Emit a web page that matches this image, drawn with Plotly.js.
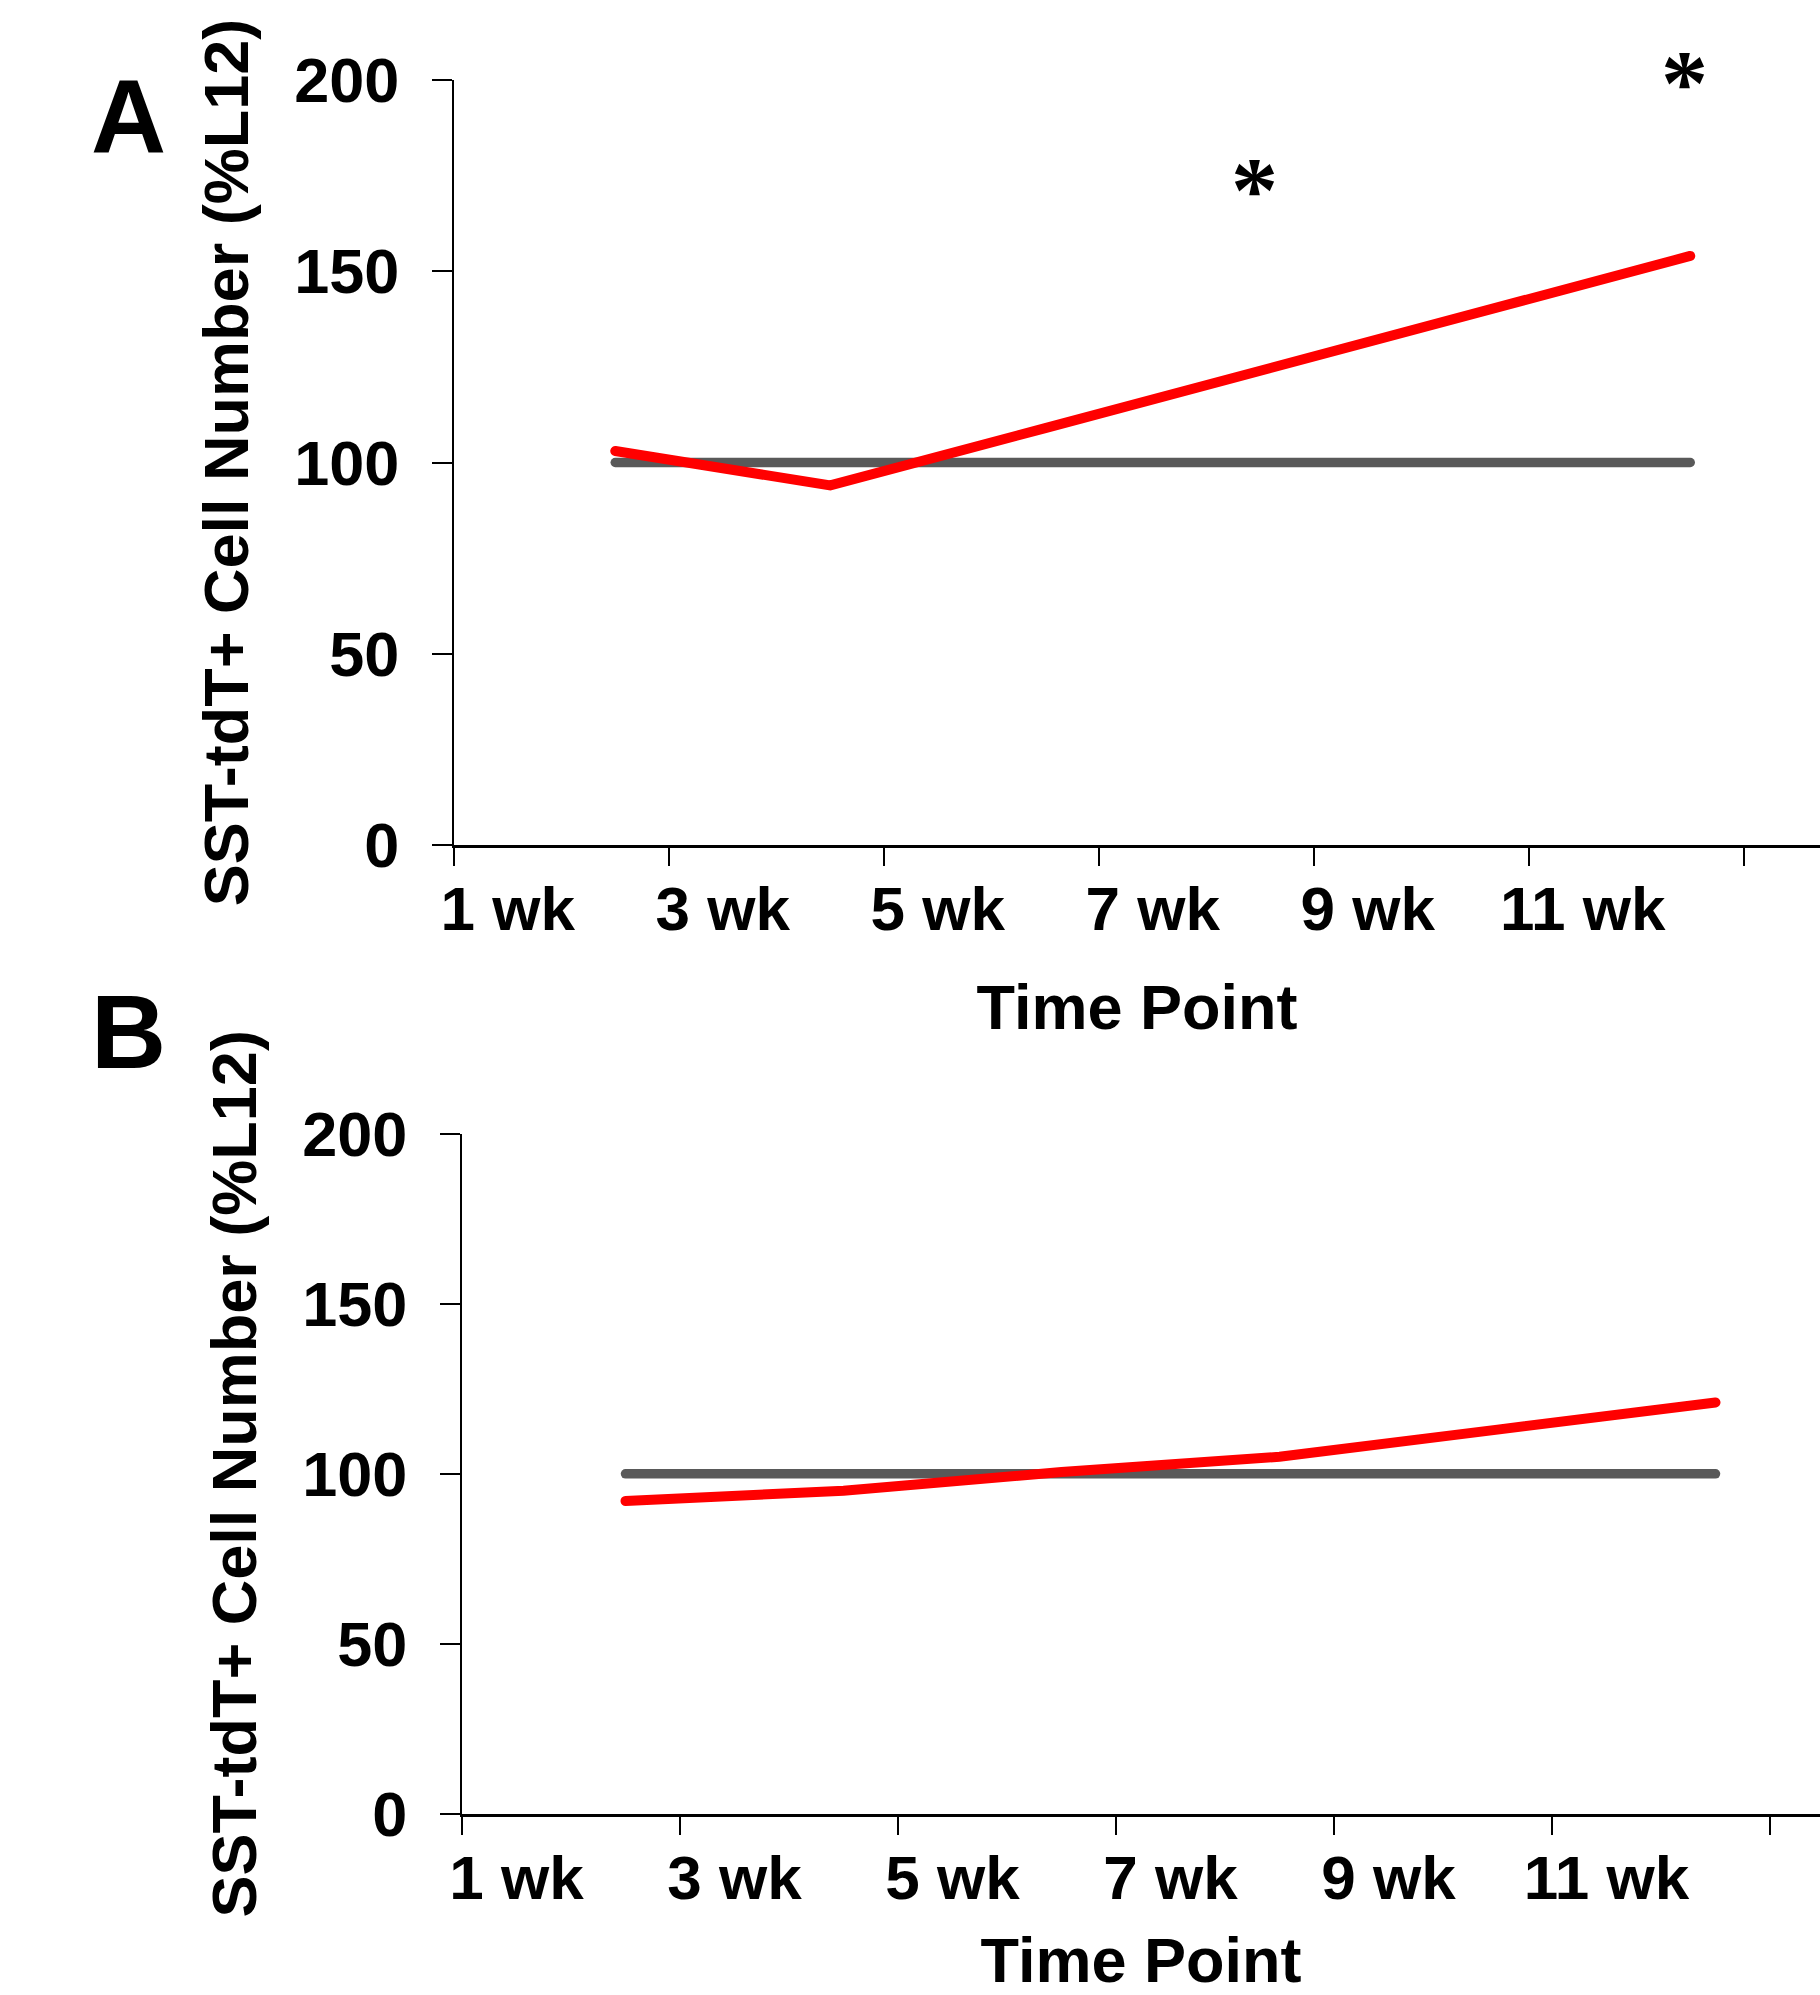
<!DOCTYPE html>
<html><head><meta charset="utf-8">
<script src="https://cdn.plot.ly/plotly-3.0.1.min.js"></script>
<style>
html,body{margin:0;padding:0;background:#fff;overflow:hidden;}
#chart{width:1820px;height:1995px;}
.js-line{stroke-linecap:round;}
</style>
</head><body><div id="chart"></div>
<script>
// ---- data ----
const weeks = ['1 wk', '3 wk', '5 wk', '7 wk', '9 wk', '11 wk'];
const controlA = [100, 100, 100, 100, 100, 100];
const treatedA = [103, 94, 109, 124, 139, 154];
const controlB = [100, 100, 100, 100, 100, 100];
const treatedB = [92, 95, 100.5, 105, 113, 121];
const yTickVals = [0, 50, 100, 150, 200];
const sigWeeksA = ['7 wk', '11 wk'];
const sigLevelA = [175, 203];
const yTitle = 'SST-tdT+ Cell Number (%L12)';
const xTitle = 'Time Point';

// ---- build ----
const idx = weeks.map((w, i) => i);
const tickPos = idx.map(i => i - 0.75).concat([weeks.length - 0.75]);
const labelPos = idx.map(i => i - 0.5);

const W = 1820, H = 1995;
const FONT = 'Liberation Sans, Arial, Helvetica, sans-serif';
const GRAY = '#595959', RED = '#ff0000';
const YMAX = 200;
const A_TOP = 80, A_BOT = 845, B_TOP = 1134, B_BOT = 1813.6;

function line(y, color, width, xa, ya) {
  return {x: idx, y: y, type: 'scatter', mode: 'lines', xaxis: xa, yaxis: ya,
          line: {color: color, width: width}, hoverinfo: 'skip', showlegend: false};
}
function holder(xa, ya) {
  return {x: [labelPos[0]], y: [null], type: 'scatter', mode: 'lines', xaxis: xa, yaxis: ya,
          hoverinfo: 'skip', showlegend: false};
}
const data = [
  holder('x3', 'y'),
  holder('x4', 'y2'),
  line(controlA, GRAY, 9.5, 'x', 'y'),
  line(treatedA, RED, 10, 'x', 'y'),
  line(controlB, GRAY, 9.5, 'x2', 'y2'),
  line(treatedB, RED, 10, 'x2', 'y2')
];

function tickAxis(left, spacing, anchor) {
  return {
    domain: [left / W, 1], range: [-0.75, -0.75 + (W - left) / spacing], anchor: anchor,
    tickmode: 'array', tickvals: tickPos, showticklabels: false,
    ticks: 'outside', ticklen: 18, tickwidth: 2, tickcolor: '#000',
    showline: true, linecolor: '#000', linewidth: 3,
    showgrid: false, zeroline: false, fixedrange: true
  };
}
function labelAxis(left, spacing, anchor, over) {
  return {
    domain: [left / W, 1], range: [-0.75, -0.75 + (W - left) / spacing], anchor: anchor,
    overlaying: over, side: 'bottom',
    tickmode: 'array', tickvals: labelPos, ticktext: weeks, ticks: '',
    ticklabelstandoff: 22,
    tickfont: {family: FONT, size: 62, color: '#000', weight: 'bold'},
    showline: false, showgrid: false, zeroline: false, fixedrange: true,
    title: {text: xTitle, font: {family: FONT, size: 63, color: '#000', weight: 'bold'}, standoff: 42}
  };
}
function yAxis(bottom, top, anchor) {
  return {
    domain: [(H - bottom) / H, (H - top) / H], range: [0, YMAX], anchor: anchor,
    tickmode: 'array', tickvals: yTickVals,
    ticks: 'outside', ticklen: 20, tickwidth: 2, tickcolor: '#000',
    ticklabelstandoff: 20,
    tickfont: {family: FONT, size: 63, color: '#000', weight: 'bold'},
    showline: true, linecolor: '#000', linewidth: 2,
    showgrid: false, zeroline: false, fixedrange: true,
    title: {text: yTitle, font: {family: FONT, size: 63, color: '#000', weight: 'bold'}, standoff: 25}
  };
}

const pxPerUnitA = (A_BOT - A_TOP) / YMAX;
const annotations = [
  {text: 'A', xref: 'paper', yref: 'paper', x: 128 / W, y: (H - 116) / H, showarrow: false,
   xanchor: 'center', yanchor: 'middle', font: {family: FONT, size: 104, color: '#000', weight: 'bold'}},
  {text: 'B', xref: 'paper', yref: 'paper', x: 128 / W, y: (H - 1032) / H, showarrow: false,
   xanchor: 'center', yanchor: 'middle', font: {family: FONT, size: 104, color: '#000', weight: 'bold'}}
];
sigWeeksA.forEach((w, k) => {
  const v = sigLevelA[k];
  const inRange = Math.min(v, YMAX);
  annotations.push({text: '*', xref: 'x', yref: 'y', x: weeks.indexOf(w), y: inRange,
    xshift: -6, yshift: (v - inRange) * pxPerUnitA - 13, showarrow: false, xanchor: 'center', yanchor: 'middle',
    font: {family: 'Liberation Serif, Times New Roman, serif', size: 94, color: '#000', weight: 'bold'}});
});

const layout = {
  width: W, height: H, margin: {l: 0, r: 0, t: 0, b: 0},
  paper_bgcolor: '#fff', plot_bgcolor: 'rgba(0,0,0,0)', showlegend: false,
  xaxis: tickAxis(454, 215, 'y'),
  xaxis3: labelAxis(454, 215, 'y', 'x'),
  yaxis: yAxis(A_BOT, A_TOP, 'x'),
  xaxis2: tickAxis(462, 218, 'y2'),
  xaxis4: labelAxis(462, 218, 'y2', 'x2'),
  yaxis2: yAxis(B_BOT, B_TOP, 'x2'),
  annotations: annotations
};

Plotly.newPlot('chart', data, layout, {displayModeBar: false, staticPlot: true});
</script>
</body></html>
